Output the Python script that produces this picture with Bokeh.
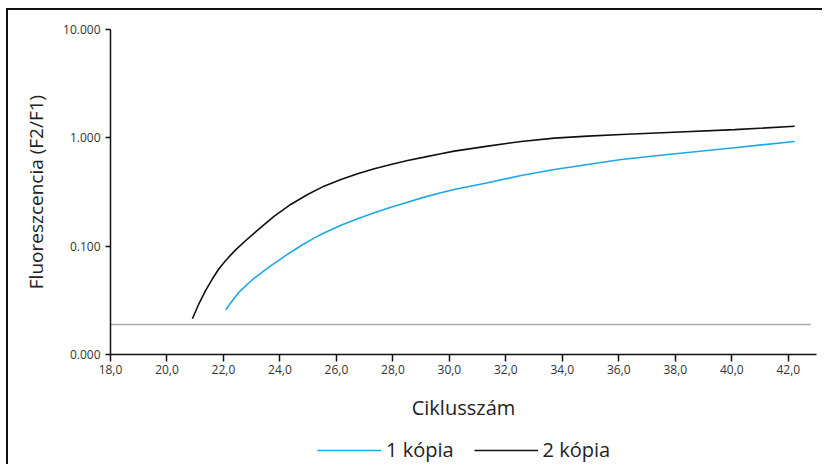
from bokeh.plotting import figure
from bokeh.models import FixedTicker, Legend, LegendItem
from bokeh.layouts import column
from bokeh.embed import file_html
from bokeh.resources import INLINE

# ---- data ----
x_one = [22.08, 22.32, 22.55, 23.02, 23.61, 24.21, 24.80, 25.27, 25.56, 26.16, 26.75, 27.34, 27.93,
         28.52, 29.11, 29.70, 30.17, 31.36, 32.54, 33.72, 34.90, 36.09, 37.74, 40.10, 42.23]
y_one = [0.0259, 0.0315, 0.0376, 0.0490, 0.0640, 0.0821, 0.1030, 0.1211, 0.1325, 0.1559, 0.1791, 0.2034, 0.2291,
         0.2548, 0.2835, 0.3113, 0.3330, 0.3849, 0.4496, 0.5108, 0.5681, 0.6316, 0.7026, 0.8100, 0.9264]

x_two = [20.90, 21.13, 21.37, 21.61, 21.84, 22.08, 22.43, 22.85, 23.20, 23.79, 24.38, 24.98, 25.56, 26.16,
         26.75, 27.34, 27.93, 28.52, 29.11, 29.70, 30.17, 31.36, 32.54, 33.72, 34.90, 36.09, 37.74, 40.10, 42.23]
y_two = [0.0214, 0.0294, 0.0390, 0.0500, 0.0618, 0.0738, 0.0925, 0.1165, 0.1396, 0.1880, 0.2427, 0.3002, 0.3581, 0.4128,
         0.4661, 0.5185, 0.5681, 0.6183, 0.6634, 0.7130, 0.7538, 0.8384, 0.9264, 0.9936, 1.037, 1.075, 1.120, 1.190, 1.280]

thr_x = [18.0, 42.8]
thr_y = [0.0189, 0.0189]

x_ticks = [18, 20, 22, 24, 26, 28, 30, 32, 34, 36, 38, 40, 42]
x_tick_labels = ["18,0", "20,0", "22,0", "24,0", "26,0", "28,0", "30,0", "32,0", "34,0", "36,0", "38,0", "40,0", "42,0"]
y_ticks = [0.01, 0.1, 1, 10]
y_tick_labels = ["0.000", "0.100", "1.000", "10.000"]

series_names = ["1 kópia", "2 kópia"]
x_title = "Ciklusszám"
y_title = "Fluoreszcencia (F2/F1)"

FONT = "Open Sans"
BLUE = "#1ba8e6"
BLACK = "#111111"

p = figure(frame_width=706, frame_height=325,
           output_backend="svg", toolbar_location=None,
           x_range=(18, 43), y_range=(0.01, 10), y_axis_type="log",
           min_border_left=102, min_border_top=19, min_border_right=6, min_border_bottom=74)
p.outline_line_color = None
p.grid.visible = False
p.background_fill_color = "white"
p.border_fill_color = "white"

thr = p.line(thr_x, thr_y, line_color="#aaaaaa", line_width=1.5)
r1 = p.line(x_one, y_one, line_color=BLUE, line_width=1.6)
r2 = p.line(x_two, y_two, line_color=BLACK, line_width=1.6)

xa = p.xaxis[0]
xa.ticker = FixedTicker(ticks=x_ticks)
xa.major_label_overrides = {t: l for t, l in zip(x_ticks, x_tick_labels)}
xa.minor_tick_line_color = None
xa.major_tick_out = 7
xa.major_tick_in = 0
xa.major_label_standoff = 3
xa.axis_line_width = 1.5
xa.axis_line_color = "#111"
xa.major_tick_line_color = "#111"
xa.major_tick_line_width = 1.5
xa.major_label_text_font = FONT
xa.major_label_text_font_size = "12px"
xa.major_label_text_color = "#333"
xa.axis_label = x_title
xa.axis_label_text_font = FONT
xa.axis_label_text_font_size = "20px"
xa.axis_label_text_font_style = "normal"
xa.axis_label_text_color = "#222"
xa.axis_label_standoff = 17

ya = p.yaxis[0]
ya.ticker = FixedTicker(ticks=y_ticks)
ya.major_label_overrides = {t: l for t, l in zip(y_ticks, y_tick_labels)}
ya.minor_tick_line_color = None
ya.major_tick_out = 5
ya.major_tick_in = 0
ya.major_label_standoff = 5
ya.axis_line_width = 1.5
ya.axis_line_color = "#111"
ya.major_tick_line_color = "#111"
ya.major_tick_line_width = 1.5
ya.major_label_text_font = FONT
ya.major_label_text_font_size = "12px"
ya.major_label_text_color = "#333"
ya.axis_label = y_title
ya.axis_label_text_font = FONT
ya.axis_label_text_font_size = "19px"
ya.axis_label_text_font_style = "normal"
ya.axis_label_text_color = "#222"
ya.axis_label_standoff = 11

# legend strip below the chart (series drawn off-view here, only their legend glyphs show)
lp = figure(frame_width=814, frame_height=36, output_backend="svg", toolbar_location=None,
            x_range=(0, 1), y_range=(0, 1), x_axis_location=None, y_axis_location=None,
            min_border=0)
lp.outline_line_color = None
lp.grid.visible = False
lp.border_fill_color = "white"
l1 = lp.line(x_one, y_one, line_color=BLUE, line_width=1.6)
l2 = lp.line(x_two, y_two, line_color=BLACK, line_width=1.6)
legend = Legend(items=[LegendItem(label=series_names[0], renderers=[l1]),
                       LegendItem(label=series_names[1], renderers=[l2])],
                orientation="horizontal", location=(309, 1),
                glyph_width=64, glyph_height=20, label_standoff=5, spacing=20,
                label_text_font=FONT, label_text_font_size="20px", label_text_color="#222",
                border_line_color=None, background_fill_alpha=0, padding=0, margin=0)
lp.add_layout(legend)

layout = column(p, lp, spacing=0)
layout.styles = {"border-left": "2px solid #111", "border-top": "2px solid #111",
                 "margin-left": "6px", "margin-top": "8px"}

open("out.html", "w").write(file_html(layout, INLINE))
